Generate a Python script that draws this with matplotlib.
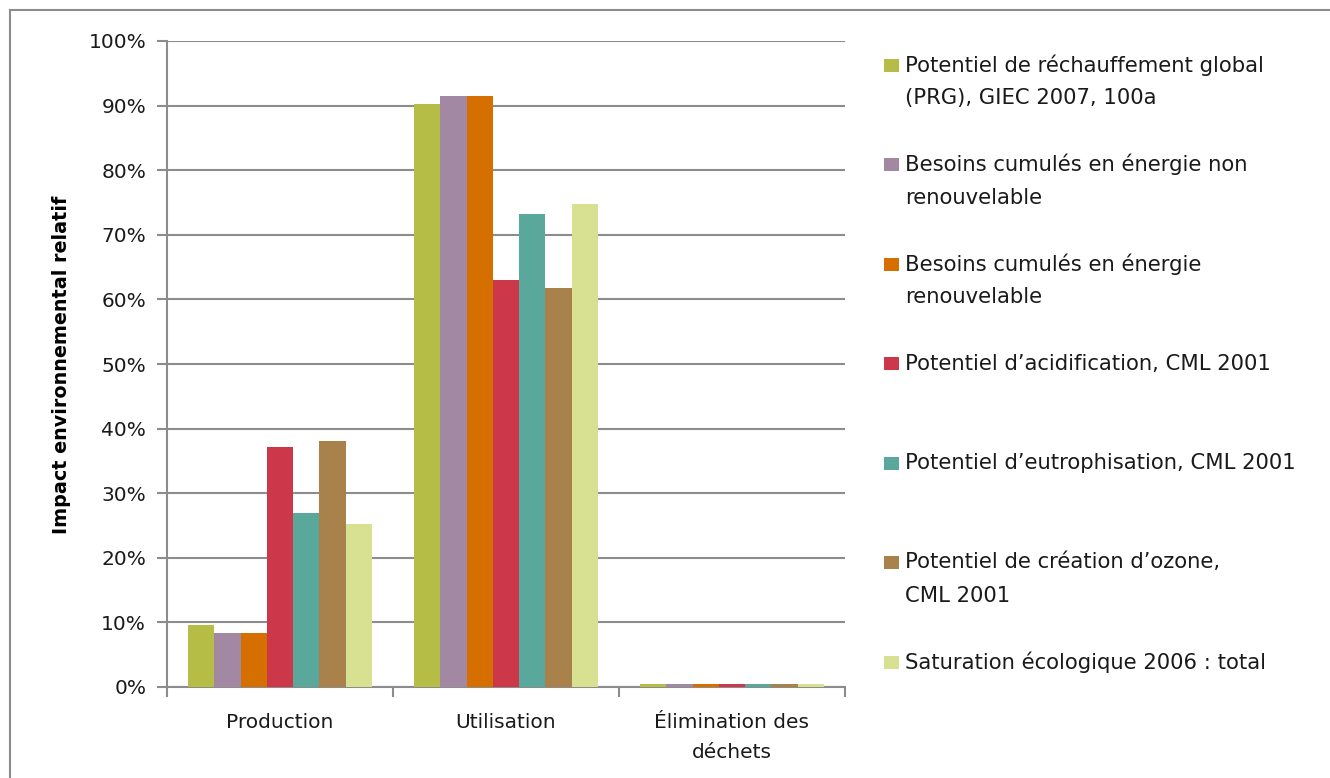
import numpy as np
import matplotlib
matplotlib.use("Agg")
import matplotlib.pyplot as plt
from matplotlib.lines import Line2D
from matplotlib.patches import Rectangle

categories = ["Production", "Utilisation", "Élimination des\ndéchets"]
series_labels = [
    "Potentiel de réchauffement global\n(PRG), GIEC 2007, 100a",
    "Besoins cumulés en énergie non\nrenouvelable",
    "Besoins cumulés en énergie\nrenouvelable",
    "Potentiel d’acidification, CML 2001",
    "Potentiel d’eutrophisation, CML 2001",
    "Potentiel de création d’ozone,\nCML 2001",
    "Saturation écologique 2006 : total",
]
prg = [9.6, 90.2, 0.4]
energie_non_renouv = [8.4, 91.5, 0.4]
energie_renouv = [8.4, 91.5, 0.4]
acidification = [37.2, 63.0, 0.4]
eutrophisation = [26.9, 73.2, 0.4]
ozone = [38.1, 61.8, 0.4]
saturation = [25.2, 74.8, 0.4]
series_values = [prg, energie_non_renouv, energie_renouv, acidification,
                 eutrophisation, ozone, saturation]
colors = ["#b5bd47", "#a388a3", "#d46f00", "#cc374a", "#5aa89c", "#a8824a", "#d8e191"]
yticks = [0, 10, 20, 30, 40, 50, 60, 70, 80, 90, 100]
ytick_labels = [f"{v}%" for v in yticks]

W, H = 1330, 778
fig = plt.figure(figsize=(W / 100, H / 100), dpi=100)
fig.patch.set_facecolor("white")
ax = fig.add_axes([167 / W, 1 - 687 / H, (845 - 167) / W, (687 - 41) / H])

txt_color = "#1a1a1a"
grid_color = "#8c8c8c"
fs = 14.5

n = len(series_values)
bw = 0.1163
x = np.arange(len(categories))
for i, (vals, c) in enumerate(zip(series_values, colors)):
    ax.bar(x + (i - (n - 1) / 2) * bw, vals, width=bw, color=c, zorder=3, linewidth=0)

ax.set_xlim(-0.5, len(categories) - 0.5)
ax.set_ylim(0, 100)
ax.set_yticks(yticks)
ax.set_yticklabels(ytick_labels, fontsize=fs, color=txt_color)
ax.yaxis.grid(True, color=grid_color, linewidth=1.5, zorder=0)
ax.set_axisbelow(True)

ax.set_xticks(x)
ax.set_xticklabels(categories, fontsize=fs, color=txt_color, linespacing=1.75,
                   va="top")
ax.set_xticks(np.arange(len(categories) + 1) - 0.5, minor=True)
ax.tick_params(axis="x", which="major", length=0, pad=18.5)
ax.tick_params(axis="x", which="minor", length=7, width=1.5, color=grid_color, direction="out")
ax.tick_params(axis="y", length=7, width=1.5, color=grid_color, direction="out", pad=8)

for s in ["top", "right"]:
    ax.spines[s].set_visible(False)
for s in ["left", "bottom"]:
    ax.spines[s].set_color(grid_color)
    ax.spines[s].set_linewidth(1.5)

fig.text(62 / W, 1 - 365 / H, "Impact environnemental relatif", rotation=90,
         ha="center", va="center", fontsize=13.8, fontweight="bold", color="black")

# legend (manual, Excel-like layout)
y0, dy, line_dy = 65, 99.5, 33
for i, (lab, c) in enumerate(zip(series_labels, colors)):
    yc = y0 + i * dy
    fig.add_artist(Rectangle((884 / W, 1 - (yc + 6.5) / H), 15 / W, 13 / H,
                             transform=fig.transFigure, facecolor=c, edgecolor="none"))
    for j, line in enumerate(lab.split("\n")):
        fig.text(905 / W, 1 - (yc + j * line_dy) / H, line, ha="left", va="center",
                 fontsize=fs + 0.7, color=txt_color)

# outer frame
fig.add_artist(Line2D([10 / W, 1.0], [1 - 10 / H, 1 - 10 / H], transform=fig.transFigure,
                      color="#8c8c8c", linewidth=1.5))
fig.add_artist(Line2D([10 / W, 10 / W], [1 - 10 / H, 0.0], transform=fig.transFigure,
                      color="#8c8c8c", linewidth=1.5))

fig.savefig("out.png", dpi=100, facecolor="white")
